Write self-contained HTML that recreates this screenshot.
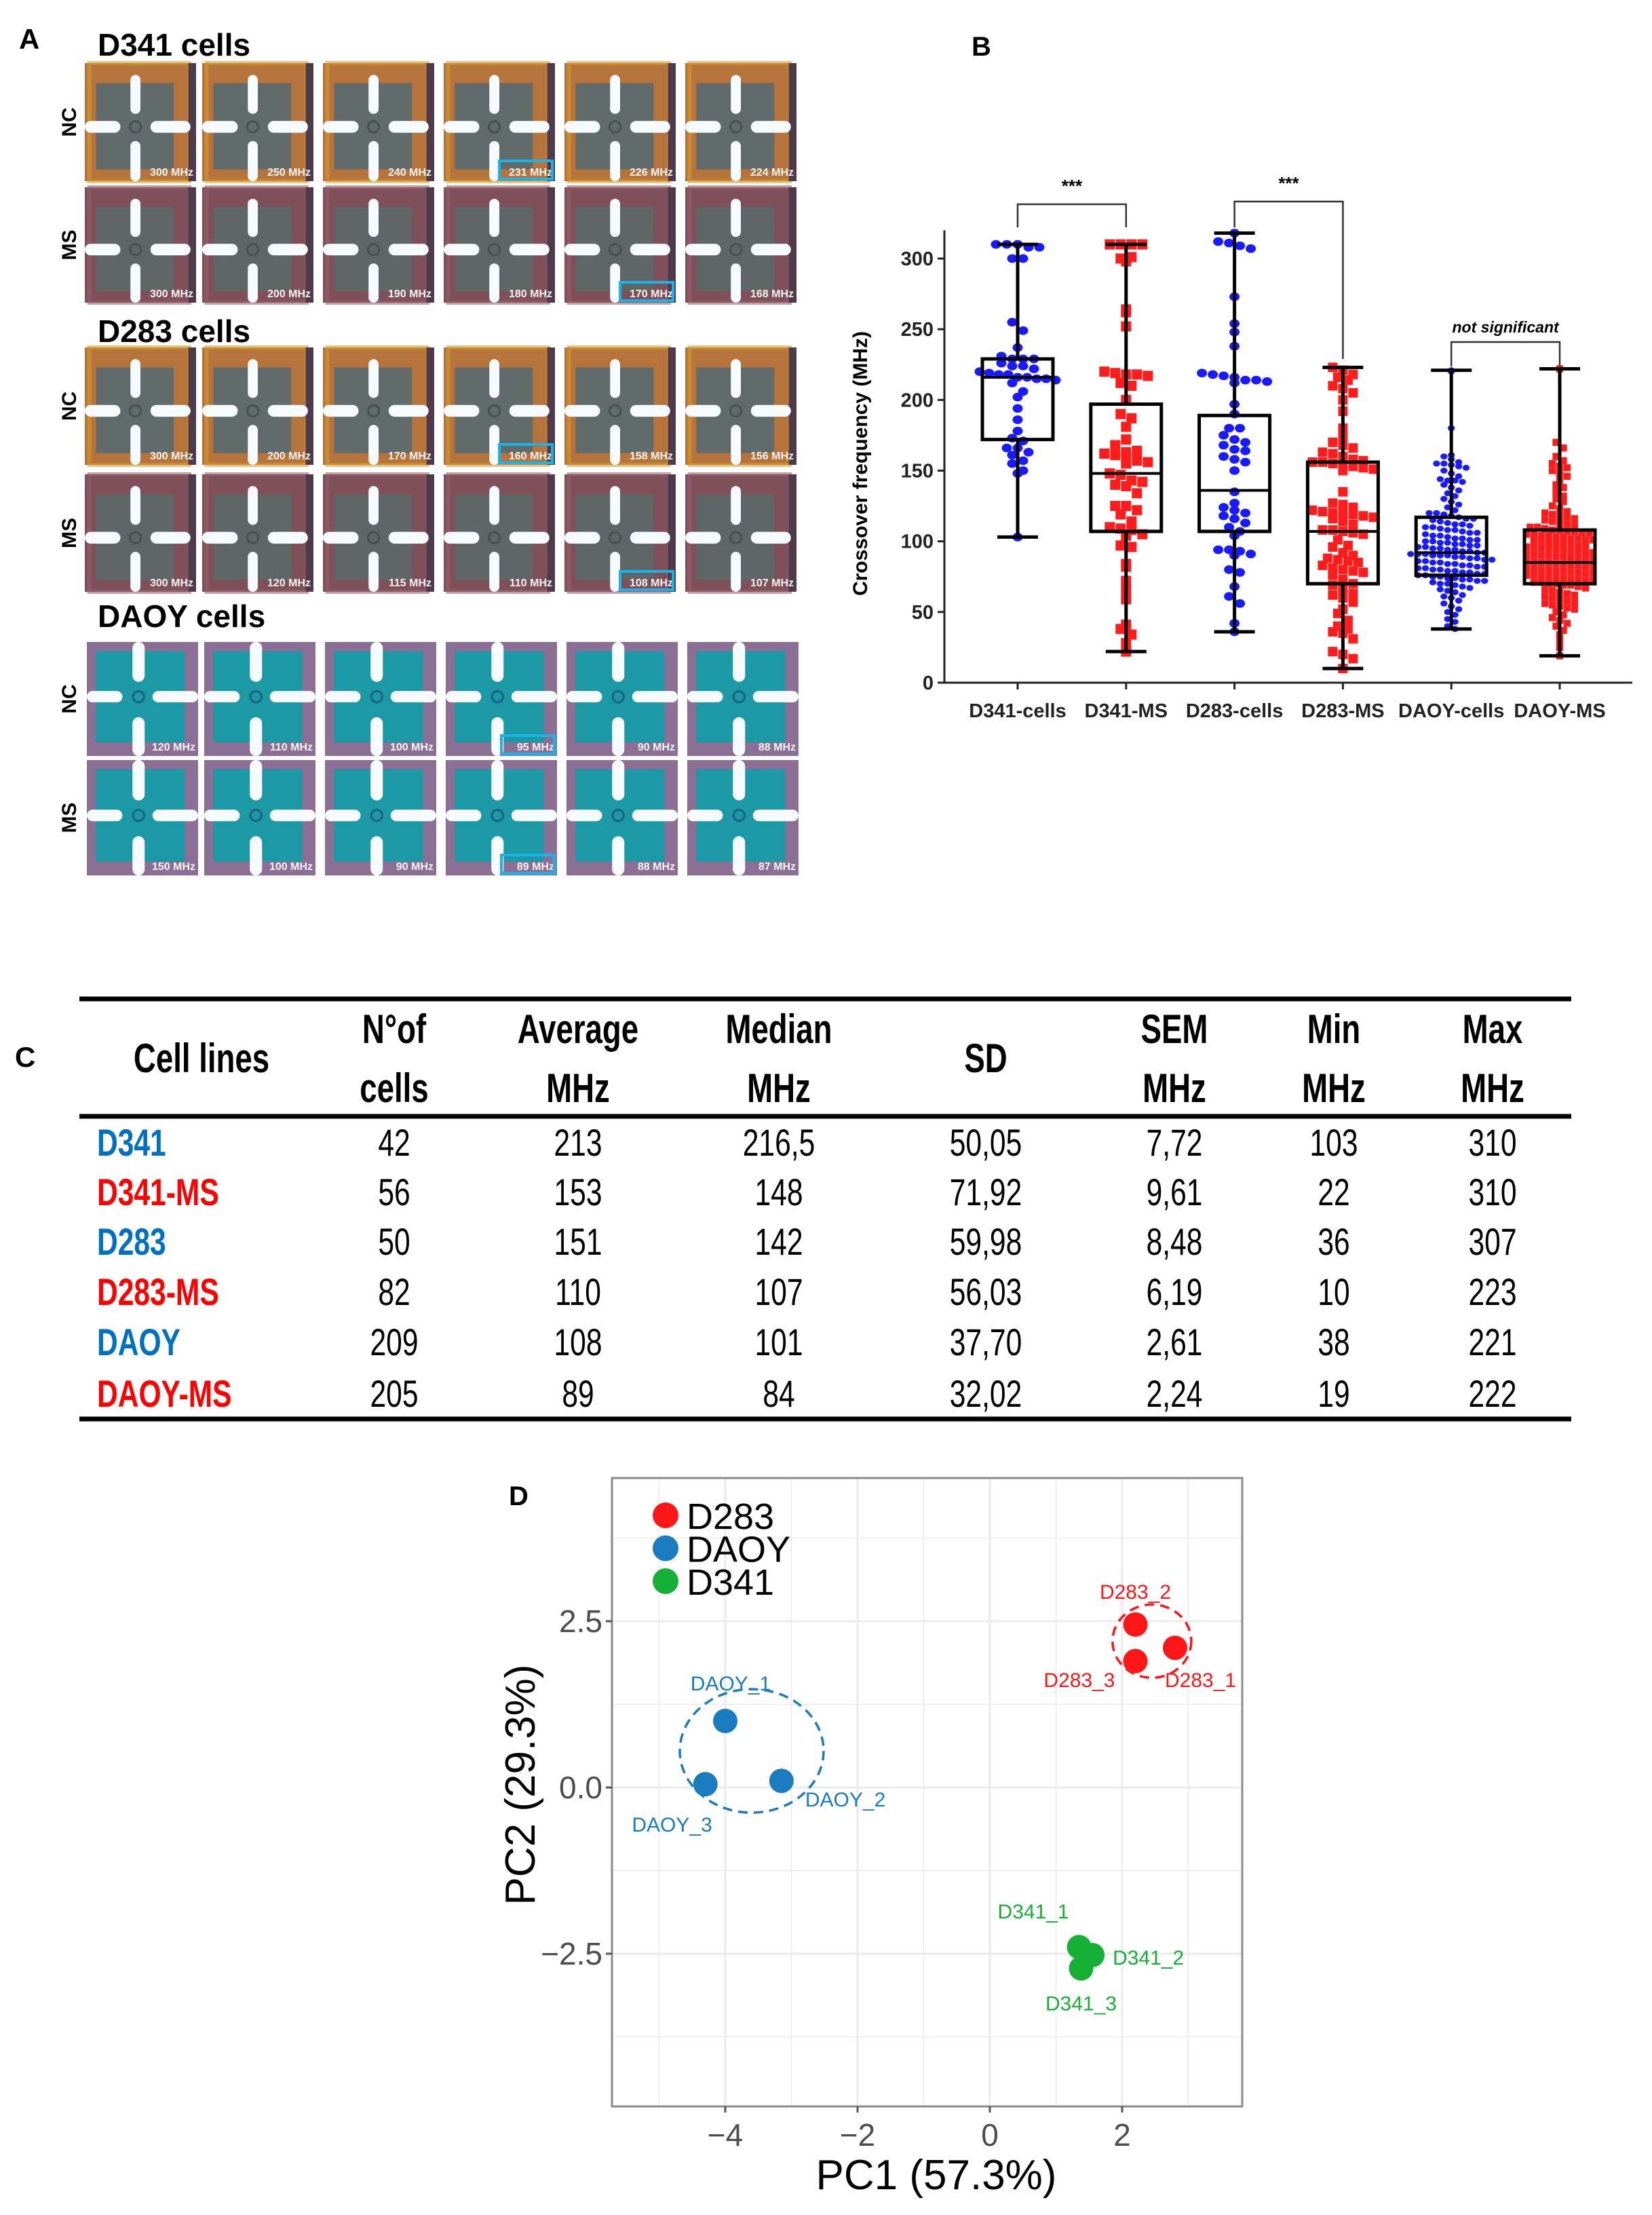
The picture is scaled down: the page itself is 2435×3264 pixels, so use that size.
<!DOCTYPE html>
<html><head><meta charset="utf-8">
<style>
html,body{margin:0;padding:0;background:#fff;}
svg{display:block;}
text{font-family:"Liberation Sans",sans-serif;}
.narrow{font-family:"Liberation Sans Narrow","Liberation Sans",sans-serif;}
</style></head>
<body>
<svg id="fig" width="2435" height="3264" viewBox="0 0 2435 3264" xmlns="http://www.w3.org/2000/svg">
<rect width="2435" height="3264" fill="#fff"/>
<g id="panelA">
<text x="28" y="72" font-size="42" font-weight="bold">A</text>
<text x="144" y="82" font-size="46" font-weight="bold">D341 cells</text>
<text x="144" y="504" font-size="46" font-weight="bold">D283 cells</text>
<text x="144" y="924" font-size="46" font-weight="bold">DAOY cells</text>
</g>
<g id="panelB">
<text x="1432" y="82" font-size="40" font-weight="bold">B</text>
</g>
<g id="panelC"></g>
<g id="panelD"></g>
</svg>
<script>
// ---------- Panel B data ----------
const categories = ["D341-cells","D341-MS","D283-cells","D283-MS","DAOY-cells","DAOY-MS"];
const boxMin = [103,22,36,10,38,19];
const boxQ1 = [172,107,107,70,76,70];
const boxMed = [216,148,136,107,92,85];
const boxQ3 = [229,197,189,156,117,108];
const boxMax = [310,310,318,223,221,222];
const yTicks = [0,50,100,150,200,250,300];
const vD341 = [310,310,310,308,308,300,300,255,249,237,231,229,229,229,226,224,224,222,220,219,218,218,216,216,215,215,214,212,206,202,194,186,178,173,171,166,166,163,161,157,155,150,148,103];
const vD341MS = [310,310,310,310,300,298,301,264,262,252,220,219,218,218,217,212,210,200,190,187,181,172,168,163,164,162,161,158,157,156,155,148,147,143,142,140,139,134,125,125,122,119,114,110,109,108,105,104,97,96,84,82,72,66,59,41,38,34,28,22];
const vD283 = [318,312,311,309,307,273,254,248,238,219,218,217,216,214,214,213,212,197,190,180,180,175,172,170,168,165,164,160,158,156,150,135,127,124,122,120,118,116,113,110,107,104,94,94,93,91,90,80,78,68,61,56,42,36];
const vD283MS = [223,221,218,216,214,210,208,205,200,192,180,174,170,168,166,163,162,160,158,157,156,156,155,154,153,152,151,150,135,127,126,124,122,121,120,120,119,118,117,116,114,112,108,108,107,106,105,101,97,96,92,90,88,87,86,85,83,81,80,79,78,76,73,70,69,66,63,62,60,57,52,49,44,40,38,36,35,31,22,20,17,10];
const vDAOY = [221,220,180,161,160,158,156,155,155,154,153,152,150,148,146,144,143,143,142,140,138,136,134,132,130,128,126,124,122,120,120,119,118,117,116,116,115,114,113,112,112,111,110,110,109,108,108,107,106,106,105,104,104,103,102,102,101,101,100,100,99,99,98,98,97,97,96,96,95,95,94,94,93,93,92,92,91,91,91,90,90,90,89,89,88,88,87,87,86,86,85,85,84,84,83,83,82,82,81,81,80,80,79,79,78,78,77,77,76,76,75,75,74,74,73,73,72,72,71,70,70,69,68,67,66,65,64,62,61,60,58,56,54,52,50,48,45,43,40,38];
const vDAOYMS = [222,170,166,160,157,155,153,152,150,148,146,143,140,138,135,132,130,128,125,123,121,120,119,118,117,116,115,114,113,112,111,110,110,109,108,108,107,107,106,106,105,105,104,104,103,103,102,102,101,101,100,100,99,99,98,98,97,97,96,96,95,95,94,94,93,93,92,92,91,91,90,90,89,89,88,88,87,87,86,86,85,85,84,84,83,83,82,82,81,81,80,80,79,79,78,78,77,77,76,76,75,75,74,74,73,73,72,72,71,71,70,70,69,69,68,67,66,65,64,63,62,61,60,59,58,57,56,55,54,53,52,50,48,46,44,42,40,37,34,30,25,19];
const groupValues = [vD341,vD341MS,vD283,vD283MS,vDAOY,vDAOYMS];

// ---------- Panel C data ----------
const tableHeaders1 = ["N°of","Average","Median","","SEM","Min","Max"];
const tableHeaders2 = ["cells","MHz","MHz","","MHz","MHz","MHz"];
const tableRowNames = ["D341","D341-MS","D283","D283-MS","DAOY","DAOY-MS"];
const tableRows = [
 ["42","213","216,5","50,05","7,72","103","310"],
 ["56","153","148","71,92","9,61","22","310"],
 ["50","151","142","59,98","8,48","36","307"],
 ["82","110","107","56,03","6,19","10","223"],
 ["209","108","101","37,70","2,61","38","221"],
 ["205","89","84","32,02","2,24","19","222"]];

// ---------- Panel D data ----------
const pcaNames = ["D283_1","D283_2","D283_3","DAOY_1","DAOY_2","DAOY_3","D341_1","D341_2","D341_3"];
const pcaX = [2.8,2.2,2.2,-4.0,-3.15,-4.3,1.35,1.55,1.38];
const pcaY = [2.1,2.45,1.9,1.0,0.1,0.05,-2.4,-2.52,-2.72];
const pcaGroup = [0,0,0,1,1,1,2,2,2];
const groupNames = ["D283","DAOY","D341"];
const xTicksD = [-4,-2,0,2];
const yTicksD = [2.5,0.0,-2.5];

// ---------- Panel A data ----------
const tileLabels = [
 ["300 MHz","250 MHz","240 MHz","231 MHz","226 MHz","224 MHz"],
 ["300 MHz","200 MHz","190 MHz","180 MHz","170 MHz","168 MHz"],
 ["300 MHz","200 MHz","170 MHz","160 MHz","158 MHz","156 MHz"],
 ["300 MHz","120 MHz","115 MHz","110 MHz","108 MHz","107 MHz"],
 ["120 MHz","110 MHz","100 MHz","95 MHz","90 MHz","88 MHz"],
 ["150 MHz","100 MHz","90 MHz","89 MHz","88 MHz","87 MHz"]];
const highlightCol = [3,4,3,4,3,3];

const NS="http://www.w3.org/2000/svg";
function mk(tag,parent,attrs){const e=document.createElementNS(NS,tag);for(const k in attrs)e.setAttribute(k,attrs[k]);parent.appendChild(e);return e;}

// ===== Panel A =====
(function(){
 const g=document.getElementById('panelA');
 const colX=[125,298,476,654,832,1010];
 const rowY=[93,276,512,699,946,1120];
 const rowH=[174,170,173,173,168,170];
 const W=164;
 const rowLabels=["NC","MS","NC","MS","NC","MS"];
 for(let r=0;r<6;r++){
  const lab=mk('text',g,{x:0,y:0,'font-size':30,'font-weight':'bold',transform:`translate(112,${rowY[r]+rowH[r]/2}) rotate(-90)`,'text-anchor':'middle'});
  lab.textContent=rowLabels[r];
  
  
  const daoy=r>=4, ms=(r%2==1);
  for(let c=0;c<6;c++){
   const x=colX[c]+(daoy?3:0), y=rowY[r], h=rowH[r];
   const t=mk('g',g,{});
   
   
   let border, inner;
   if(daoy){border='#8b6f95';inner='#1b99a4';}
   else if(ms){border='#7f4f5a';inner='#5e6766';}
   else {border='#b7733c';inner='#606b6a';}
   mk('rect',t,{x:x,y:y,width:W,height:h,fill:border});
   if(!daoy){
     mk('rect',t,{x:x+W*0.04,y:y,width:W*0.9,height:h,fill:'none',stroke:ms?'#94606a':'#d59b2a','stroke-width':6,opacity:0.6});
     mk('rect',t,{x:x+W*0.93,y:y,width:W*0.07,height:h,fill:'#4d3a4a'});
     mk('rect',t,{x:x+W*0.1,y:y+h*0.17,width:W*0.7,height:h*0.73,fill:inner});
   } else {
     mk('rect',t,{x:x+W*0.08,y:y+h*0.08,width:W*0.8,height:h*0.8,fill:inner});
   }
   const bw=daoy?W*0.11:W*0.09, bx=x+W*0.41;
   const hy=y+h*(daoy?0.43:0.49), hh=h*0.1;
   mk('rect',t,{x:bx,y:y+(daoy?0:h*0.1),width:bw,height:h*(daoy?0.35:0.33),rx:bw/2,fill:'#f6fbff'});
   mk('rect',t,{x:bx,y:y+h*0.66,width:bw,height:h*0.34,rx:bw/2,fill:'#f6fbff'});
   mk('rect',t,{x:x,y:hy,width:W*0.32,height:hh,rx:hh/2,fill:'#f6fbff'});
   mk('rect',t,{x:x+W*0.59,y:hy,width:W*(daoy?0.41:0.36),height:hh,rx:hh/2,fill:'#f6fbff'});
   mk('circle',t,{cx:bx+bw/2,cy:hy+hh/2,r:W*0.05,fill:'none',stroke:daoy?'#1d5f80':'#45504f','stroke-width':3});
   const tl=mk('text',t,{x:x+W-4,y:y+h-8,'font-size':16,'font-weight':'bold',fill:'#f4f4f4','text-anchor':'end'});
   tl.textContent=tileLabels[r][c];
   
   
   if(c===highlightCol[r]){
     const hb=mk('rect',t,{x:x+W*0.5,y:y+h-30,width:W*0.5-4,height:27,fill:'none',stroke:'#1ab4ea','stroke-width':4});
     
     
   }
  }
 }
})();

// ===== Panel B =====
(function(){
 const g=document.getElementById('panelB');
 const axX=1392, y0=1006, pxPer=(1006-381)/300;
 const catX0=1500, catStep=159.8;
 const yS=v=>y0-v*pxPer;
 const xS=i=>catX0+i*catStep;
 const ax=mk('path',g,{d:`M${axX},${yS(320)} L${axX},${y0} L2406,${y0}`,fill:'none',stroke:'#222','stroke-width':3});
 
 
 yTicks.forEach(v=>{
  mk('line',g,{x1:axX-10,x2:axX,y1:yS(v),y2:yS(v),stroke:'#222','stroke-width':3});
  const t=mk('text',g,{x:axX-16,y:yS(v)+10,'font-size':29,'font-weight':'bold','text-anchor':'end',fill:'#222'});
  t.textContent=v;
  
  
 });
 const yt=mk('text',g,{x:0,y:0,'font-size':30,'font-weight':'bold','text-anchor':'middle',transform:`translate(1278,683) rotate(-90)`});
 yt.textContent='Crossover frequency (MHz)';
 
 
 categories.forEach((c,i)=>{
  mk('line',g,{x1:xS(i),x2:xS(i),y1:y0,y2:y0+10,stroke:'#222','stroke-width':3});
  const t=mk('text',g,{x:xS(i),y:y0+51,'font-size':29,'font-weight':'bold','text-anchor':'middle',fill:'#222'});
  t.textContent=c;
  
  
 });
 // points
 groupValues.forEach((vals,i)=>{
  const red=(i%2==1), dense=i>=4;
  const r=dense?5.2:(i==3?7:7.5);
  const maxW=dense?128:112;
  const bins={};
  vals.forEach(v=>{const b=Math.round(yS(v)/(2*r));(bins[b]=bins[b]||[]).push(v);});
  const pg=mk('g',g,{});
  
  
  Object.keys(bins).forEach(b=>{
   const arr=bins[b], n=arr.length;
   let d=2*r+(dense?0.5:1);
   if(n>1 && d*(n-1)>maxW) d=maxW/(n-1);
   arr.forEach((v,k)=>{
    const cx=xS(i)+(k-(n-1)/2)*d, cy=yS(v);
    let m;
    if(red) m=mk('rect',pg,{x:cx-r,y:cy-r,width:2*r,height:2*r,fill:'#ff1c1c'});
    else m=mk('ellipse',pg,{cx:cx,cy:cy,rx:r,ry:r*0.85,fill:'#1a1aff'});
    
    
   });
  });
 });
 // boxes
 categories.forEach((c,i)=>{
  const x=xS(i), hw=52, cw=30;
  const bg=mk('g',g,{fill:'none',stroke:'#000','stroke-width':5});
  
  
  mk('line',bg,{x1:x,x2:x,y1:yS(boxMax[i]),y2:yS(boxQ3[i])});
  mk('line',bg,{x1:x,x2:x,y1:yS(boxQ1[i]),y2:yS(boxMin[i])});
  mk('line',bg,{x1:x-cw,x2:x+cw,y1:yS(boxMax[i]),y2:yS(boxMax[i])});
  mk('line',bg,{x1:x-cw,x2:x+cw,y1:yS(boxMin[i]),y2:yS(boxMin[i])});
  mk('rect',bg,{x:x-hw,y:yS(boxQ3[i]),width:2*hw,height:yS(boxQ1[i])-yS(boxQ3[i])});
  mk('line',bg,{x1:x-hw,x2:x+hw,y1:yS(boxMed[i]),y2:yS(boxMed[i]),'stroke-width':4});
 });
 // significance brackets
 const brk=[[0,1,301,335,335,'***'],[2,3,297,335,529,'***'],[4,5,504,540,540,'not significant']];
 brk.forEach(b=>{
  const p=mk('path',g,{d:`M${xS(b[0])},${b[3]} L${xS(b[0])},${b[2]} L${xS(b[1])},${b[2]} L${xS(b[1])},${b[4]}`,fill:'none',stroke:'#333','stroke-width':2.5});
  
  
  const ns=b[5]!=='***';
  const t=mk('text',g,{x:(xS(b[0])+xS(b[1]))/2,y:b[2]-(ns?14:18),'font-size':ns?23:26,'font-weight':'bold','font-style':ns?'italic':'normal','text-anchor':'middle'});
  t.textContent=b[5];
  
  
 });
})();

// ===== Panel C =====
(function(){
 const g=document.getElementById('panelC');
 const colC=[581,852,1148,1453,1731,1966,2200];
 const rowC=[1684,1757,1830,1904,1978,2054];
 const SX=0.76;
 function txt(x,y,size,bold,anchor,fill){
  return mk('text',g,{x:0,y:0,'font-size':size,'font-weight':bold?'bold':'normal','text-anchor':anchor,fill:fill||'#000','class':'narrow',transform:`translate(${x},${y}) scale(${SX},1)`});
 }
 [[1472,7],[1645,7],[2091,7]].forEach(l=>{
  const ln=mk('line',g,{x1:117,x2:2316,y1:l[0],y2:l[0],stroke:'#000','stroke-width':l[1]});
  
  
 });
 const cl=mk('text',g,{x:22,y:1572,'font-size':42,'font-weight':'bold'});
 cl.textContent='C';
 
 
 const h0=txt(297,1580,60,true,'middle');
 h0.textContent='Cell lines';
 
 
 const hsd=txt(1453,1580,60,true,'middle');
 hsd.textContent='SD';
 
 
 colC.forEach((x,j)=>{
  if(!tableHeaders1[j])return;
  const a=txt(x,1537,60,true,'middle');
  a.textContent=tableHeaders1[j];
  
  
  const b=txt(x,1624,60,true,'middle');
  b.textContent=tableHeaders2[j];
  
  
 });
 tableRowNames.forEach((n,i)=>{
  const t=txt(143,rowC[i]+19,56,true,'start',(i%2==0)?'#0070c0':'#ff0000');
  t.textContent=n;
  
  
  tableRows[i].forEach((v,j)=>{
   const c=txt(colC[j],rowC[i]+19,56,false,'middle');
   c.textContent=v;
   
   
  });
 });
})();

// ===== Panel D =====
(function(){
 const g=document.getElementById('panelD');
 const L=902,R=1831,T=2178,B=3104, x0=1459, ux=97.5, y0=2634, uy=98;
 const xS=v=>x0+v*ux, yS=v=>y0-v*uy;
 const cols=['#ff1616','#1a7cbf','#15b035'];
 mk('rect',g,{x:L,y:T,width:R-L,height:B-T,fill:'#fff'});
 const gg=mk('g',g,{stroke:'#ebebeb'});
 
 
 [-5,-3,-1,1,3].forEach(v=>mk('line',gg,{x1:xS(v),x2:xS(v),y1:T,y2:B,'stroke-width':1.5}));
 [3.75,1.25,-1.25,-3.75].forEach(v=>mk('line',gg,{x1:L,x2:R,y1:yS(v),y2:yS(v),'stroke-width':1.5}));
 xTicksD.forEach(v=>mk('line',gg,{x1:xS(v),x2:xS(v),y1:T,y2:B,'stroke-width':3}));
 yTicksD.forEach(v=>mk('line',gg,{x1:L,x2:R,y1:yS(v),y2:yS(v),'stroke-width':3}));
 const fr=mk('rect',g,{x:L,y:T,width:R-L,height:B-T,fill:'none',stroke:'#8a8a8a','stroke-width':3});
 
 
 xTicksD.forEach(v=>{
  mk('line',g,{x1:xS(v),x2:xS(v),y1:B,y2:B+9,stroke:'#555','stroke-width':3});
  const t=mk('text',g,{x:xS(v),y:B+58,'font-size':46,fill:'#4d4d4d','text-anchor':'middle'});
  t.textContent=(v<0?'\u2212'+(-v):v);
  
  
 });
 yTicksD.forEach(v=>{
  mk('line',g,{x1:L-9,x2:L,y1:yS(v),y2:yS(v),stroke:'#555','stroke-width':3});
  const t=mk('text',g,{x:L-14,y:yS(v)+16,'font-size':46,fill:'#4d4d4d','text-anchor':'end'});
  t.textContent=(v<0?'\u2212'+(-v).toFixed(1):v.toFixed(1));
  
  
 });
 const xt=mk('text',g,{x:1380,y:3226,'font-size':62,'text-anchor':'middle'});
 xt.textContent='PC1 (57.3%)';
 
 
 const yt=mk('text',g,{x:0,y:0,'font-size':62,'text-anchor':'middle',transform:'translate(788,2630) rotate(-90)'});
 yt.textContent='PC2 (29.3%)';
 
 
 const dl=mk('text',g,{x:750,y:2218,'font-size':40,'font-weight':'bold'});
 dl.textContent='D';
 
 
 const e1=mk('ellipse',g,{cx:xS(-3.6),cy:yS(0.55),rx:106,ry:91,fill:'none',stroke:cols[1],'stroke-width':3.5,'stroke-dasharray':'14 9'});
 
 
 const e2=mk('ellipse',g,{cx:xS(2.45),cy:yS(2.2),rx:58,ry:54,fill:'none',stroke:cols[0],'stroke-width':3.5,'stroke-dasharray':'14 9'});
 
 
 const lblOff={"D283_1":[-15,58,'start'],"D283_2":[0,-38,'middle'],"D283_3":[-30,38,'end'],"DAOY_1":[8,-45,'middle'],"DAOY_2":[35,38,'start'],"DAOY_3":[10,70,'end'],"D341_1":[-15,-42,'end'],"D341_2":[30,14,'start'],"D341_3":[0,62,'middle']};
 pcaNames.forEach((n,i)=>{
  const c=mk('circle',g,{cx:xS(pcaX[i]),cy:yS(pcaY[i]),r:18,fill:cols[pcaGroup[i]]});
  
  
  const o=lblOff[n];
  const t=mk('text',g,{x:xS(pcaX[i])+o[0],y:yS(pcaY[i])+o[1],'font-size':30,fill:cols[pcaGroup[i]],'text-anchor':o[2]});
  t.textContent=n;
  
  
 });
 groupNames.forEach((n,i)=>{
  const ly=2233+i*48.5;
  const c=mk('circle',g,{cx:981,cy:ly,r:19,fill:cols[i]});
  
  
  const t=mk('text',g,{x:1012,y:ly+20,'font-size':54});
  t.textContent=n;
  
  
 });
})();
</script>
</body></html>
